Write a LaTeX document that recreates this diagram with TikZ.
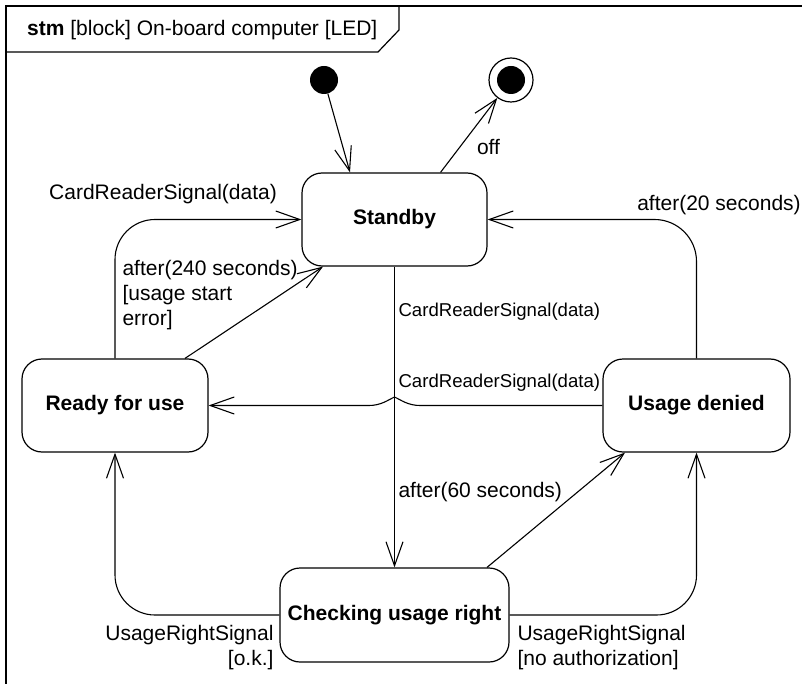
\documentclass[tikz,border=0pt]{standalone}
\usepackage{fontspec}
\setmainfont{Liberation Sans}
\usetikzlibrary{arrows.meta,calc}
\begin{document}
\begin{tikzpicture}[x=1pt,y=-1pt,
  state/.style={draw, line width=1.2pt, rounded corners=20pt, font=\fontsize{21}{25}\selectfont\bfseries, inner sep=0pt},
  lbl/.style={font=\fontsize{21}{25}\selectfont, inner sep=0pt},
  slbl/.style={font=\fontsize{18.6}{22}\selectfont, inner sep=0pt},
  arr/.style={line width=1.1pt, -{Straight Barb[length=24pt,width=17pt,line width=1.1pt]}},
]
\useasboundingbox (0,0) rectangle (802,684);
% frame
\draw[line width=1.8pt] (6,684) -- (6,6) -- (802,6);
\draw[line width=1.2pt] (6,52) -- (378,52) -- (399,30) -- (399,6);
\node[lbl, anchor=west] (title) at (27,30) {\textbf{stm} [block] On-board computer [LED]};
% states
\node[state, minimum width=185pt, minimum height=93pt] (stby) at (394.5,219.5) {Standby};
\node[state, minimum width=186pt, minimum height=93pt] (ready) at (115,405.5) {Ready for use};
\node[state, minimum width=187pt, minimum height=93pt] (denied) at (696.5,405.5) {Usage denied};
\node[state, minimum width=229pt, minimum height=94pt] (chk) at (394.5,615) {Checking usage right};
\node[circle, fill, inner sep=0pt, minimum size=28pt] (init) at (324,80) {};
\node[circle, draw, line width=1.2pt, inner sep=0pt, minimum size=44pt] (fin) at (511,80) {};
\fill (fin.center) circle (14pt);
% transitions
\draw[arr] (init) -- ($(stby.north)+(-44.5,0)$);
\draw[arr] ($(stby.north)+(46,0)$) -- (fin) node[lbl] at (488.5,147) {off};
\draw[arr, rounded corners=40pt] (ready.north) |- (stby.west) node[lbl] at (163,194) {CardReaderSignal(data)};
\draw[arr] ($(ready.north)+(70,0)$) -- ($(stby.south)+(-71.5,0)$) node[lbl, anchor=west, align=left] at (122,295) {after(240 seconds)\\{[}usage start\\error{]}};
\draw[arr] (stby) -- (chk) node[slbl, anchor=west] at (398,312) {CardReaderSignal(data)};
\draw[arr] (denied.west) -- (420,405.5) .. controls (408,405.5) and (401,400) .. (394.5,397) .. controls (388,400) and (381,405.5) .. (369,405.5) -- (ready.east) node[slbl, anchor=west] at (398,383) {CardReaderSignal(data)};
\draw[arr, rounded corners=42pt] (denied.north) |- (stby.east) node[lbl] at (719,205) {after(20 seconds)};
\draw[arr] ($(chk.north)+(92.5,0)$) -- ($(denied.south)+(-71.5,0)$) node[lbl, anchor=west] at (398,492) {after(60 seconds)};
\draw[arr, rounded corners=40pt] (chk.west) -| (ready.south) node[lbl, anchor=east, align=right] at (274,648) {UsageRightSignal\\{[}o.k.{]}};
\draw[arr, rounded corners=40pt] (chk.east) -| (denied.south) node[lbl, anchor=west, align=left] at (517,648) {UsageRightSignal\\{[}no authorization{]}};
\end{tikzpicture}
\end{document}
